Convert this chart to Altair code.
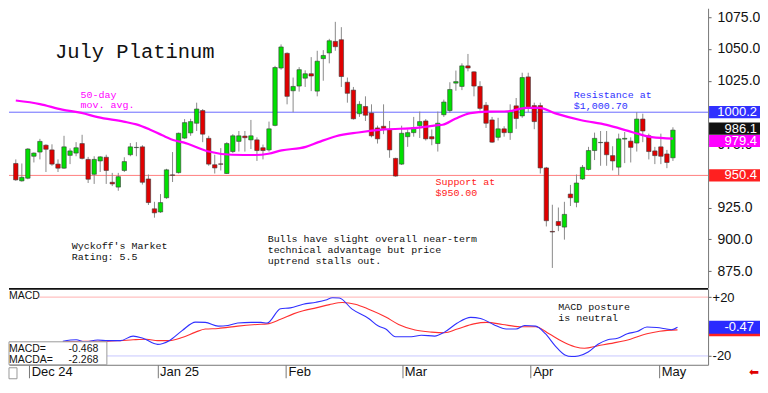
import altair as alt
import pandas as pd

# ---------------- data ----------------
opens = [959.8, 946.1, 948.2, 965.5, 968.8, 974.2, 970.5, 959.3, 956.1, 966.2,
         968.0, 975.5, 963.0, 951.3, 961.8, 964.7, 945.0, 941.2, 954.3, 966.7,
         972.3, 972.9, 947.6, 924.1, 921.6, 932.8, 950.8, 952.6, 979.8, 983.9,
         991.5, 1001.5, 979.6, 958.8, 959.5, 951.9, 969.2, 977.2, 981.4, 978.4,
         978.4, 972.2, 970.5, 989.8, 1035.0, 1046.6, 1017.1, 1020.8, 1027.0, 1030.5,
         1016.8, 1042.4, 1046.9, 1056.0, 1057.3, 1023.8, 1017.6, 999.0, 1004.7, 999.5,
         987.8, 989.1, 986.6, 963.8, 959.3, 980.9, 984.1, 989.6, 993.3, 980.9,
         975.5, 998.2, 1001.5, 1023.1, 1020.5, 1036.7, 1032.0, 1020.5, 1005.7, 994.1,
         980.4, 987.1, 984.1, 1005.2, 997.3, 1028.0, 1005.4, 1005.4, 956.3, 906.3,
         914.1, 909.7, 935.7, 929.2, 947.6, 955.1, 970.0, 976.2, 976.6, 966.0,
         956.9, 979.0, 977.4, 975.9, 994.8, 981.6, 969.7, 972.9, 967.3, 964.3]
highs = [963.0, 959.8, 971.9, 968.5, 979.2, 974.9, 974.9, 963.0, 981.6, 971.7,
         976.6, 982.4, 965.0, 965.5, 965.5, 966.7, 952.4, 952.4, 964.7, 975.9,
         976.6, 974.2, 951.1, 929.6, 935.7, 955.6, 968.8, 984.1, 994.8, 995.0,
         1007.7, 1002.7, 981.6, 966.7, 971.9, 976.6, 982.9, 985.4, 985.4, 994.1,
         980.4, 974.7, 992.8, 1036.7, 1053.6, 1047.3, 1027.5, 1035.7, 1033.2, 1043.6,
         1048.6, 1049.1, 1058.0, 1071.4, 1067.2, 1027.5, 1020.1, 1008.9, 1012.7, 1006.4,
         989.6, 1006.4, 993.3, 964.3, 989.6, 986.6, 996.5, 1000.7, 994.8, 986.6,
         1000.7, 1010.1, 1023.8, 1033.0, 1038.7, 1046.1, 1032.4, 1024.6, 1008.2, 996.5,
         995.8, 989.1, 1006.4, 1011.4, 1031.3, 1031.3, 1007.7, 1007.7, 957.1, 927.3,
         925.1, 929.6, 942.9, 951.1, 958.6, 972.9, 984.1, 985.4, 985.4, 973.4,
         983.3, 984.6, 980.4, 1000.2, 999.0, 983.3, 972.9, 983.3, 970.5, 988.3]
lows = [946.1, 945.5, 947.4, 960.6, 963.0, 953.1, 958.0, 953.1, 955.6, 959.3,
        965.5, 963.0, 944.4, 943.7, 953.1, 943.7, 942.0, 938.3, 953.1, 965.5,
        965.5, 943.2, 927.1, 917.1, 920.9, 932.0, 945.2, 951.9, 979.2, 981.6,
        985.4, 976.6, 958.0, 951.9, 954.3, 951.5, 968.0, 969.2, 969.2, 971.2,
        961.8, 963.0, 969.2, 989.1, 1033.7, 1006.4, 1000.2, 1016.4, 1020.1, 1016.8,
        1012.7, 1025.0, 1038.7, 1048.6, 1020.1, 1007.7, 994.4, 996.5, 993.3, 980.4,
        975.5, 982.9, 964.3, 949.4, 958.6, 972.9, 980.9, 979.9, 977.9, 974.2,
        969.2, 996.5, 999.7, 1017.1, 1017.6, 1032.4, 1012.7, 1001.5, 987.8, 976.0,
        977.9, 980.9, 978.4, 987.1, 995.8, 1000.2, 986.8, 951.9, 910.2, 877.5,
        906.5, 899.8, 926.3, 925.3, 946.9, 954.3, 962.5, 958.0, 958.0, 954.3,
        950.6, 960.1, 960.6, 969.2, 976.6, 963.0, 959.3, 959.3, 956.1, 961.8]
closes = [946.9, 948.9, 971.2, 968.0, 977.2, 971.0, 959.3, 956.1, 972.9, 969.7,
          972.2, 963.8, 947.4, 963.0, 965.0, 954.3, 943.7, 949.4, 961.3, 972.9,
          972.5, 945.0, 929.0, 920.9, 929.0, 954.8, 950.5, 983.6, 992.0, 992.8,
          1002.7, 982.9, 959.3, 956.3, 959.2, 975.5, 981.6, 981.6, 980.1, 981.6,
          970.0, 970.0, 987.1, 1035.4, 1051.6, 1012.7, 1020.5, 1033.7, 1030.5, 1028.7,
          1040.4, 1044.9, 1056.5, 1051.8, 1028.3, 1015.1, 995.0, 1006.4, 997.8, 981.6,
          979.2, 987.4, 970.5, 949.9, 983.6, 984.1, 987.8, 992.8, 979.2, 979.2,
          991.5, 1008.2, 1018.1, 1024.3, 1036.7, 1035.0, 1020.8, 1003.2, 991.5, 976.6,
          987.1, 984.1, 1001.0, 995.2, 1027.5, 1003.9, 992.8, 956.3, 914.7, 905.8,
          910.9, 919.7, 932.8, 944.4, 956.8, 970.0, 979.6, 976.4, 966.7, 961.8,
          979.2, 979.6, 972.5, 994.8, 985.4, 969.2, 966.0, 965.5, 960.6, 986.1]

ma_idx = [0, 4.0, 7.7, 10.9, 13.6, 17.9, 20.0, 22.2, 24.3, 26.4, 27.8, 31.8, 35.8,
          39.8, 41.9, 44.1, 48.1, 50.2, 53.1, 56.8, 61.2, 66.5, 69.7, 70.8, 72.9,
          75.4, 78.3, 81.5, 84.7, 86.8, 89.5, 93.8, 98.0, 102.3, 105.5, 109]
ma_val = [1009.4, 1006.6, 1002.2, 999.7, 996.3, 992.8, 990.6, 986.6, 982.0, 977.9,
          976.4, 969.4, 966.7, 966.5, 967.5, 970.1, 972.9, 976.6, 981.3, 984.2,
          986.6, 987.8, 989.8, 990.3, 995.0, 999.5, 1000.7, 1000.8, 1003.6, 1003.6,
          999.3, 993.9, 990.2, 984.4, 980.5, 979.4]

macd_idx = [8.5, 10.7, 12.0, 14.2, 15.8, 17.9, 20.0, 21.6, 24.0, 25.9,
            28.0, 30.2, 31.8, 33.9, 35.5, 37.1, 39.3, 40.9, 41.9, 44.1,
            45.7, 47.8, 49.9, 51.5, 52.6, 53.7, 55.8, 58.5, 60.1, 61.3,
            62.9, 65.5, 67.1, 69.3, 70.9, 73.0, 75.2, 76.8, 78.9, 81.0,
            82.6, 84.0, 85.8, 87.4, 89.0, 90.6, 91.7, 92.8, 94.4, 96.0,
            97.6, 99.2, 100.8, 102.4, 104.0, 105.6, 107.2, 108.0, 109]
macd_val = [-10.0, -9.0, -10.4, -9.2, -9.6, -9.6, -6.5, -8.0, -12.1, -9.6,
            -2.8, 3.0, 2.8, 0.3, 0.7, 2.4, 2.8, 2.8, 2.4, 12.1,
            12.7, 15.2, 16.5, 18.0, 19.6, 19.4, 11.8, 5.5, 0.3, -1.7,
            -6.9, -6.9, -5.9, -6.5, -3.8, 2.4, 6.2, 5.5, 1.4, -1.7,
            -1.7, 0.7, 0.3, -4.9, -13.1, -19.3, -20.4, -20.0, -17.3, -12.1,
            -9.0, -8.0, -4.9, -3.4, -0.3, -0.7, -1.7, -2.2, -0.468]
sig_idx = [8.5, 12.0, 15.8, 17.9, 20.0, 22.2, 24.0, 25.9, 28.0, 30.2,
           31.8, 33.9, 37.1, 40.3, 41.9, 44.1, 46.2, 47.8, 49.9, 52.1,
           54.2, 56.3, 58.5, 61.3, 63.4, 66.1, 68.8, 70.9, 73.0, 75.7,
           77.8, 80.4, 83.2, 85.8, 88.0, 90.1, 92.2, 93.8, 96.0, 98.6,
           101.3, 104.0, 106.1, 109]
sig_val = [-10.4, -10.0, -10.0, -9.6, -9.0, -8.6, -9.6, -9.6, -7.5, -3.8,
           -1.7, -1.3, 0.3, 1.4, 1.8, 4.9, 8.6, 10.7, 12.7, 14.9,
           16.3, 15.2, 11.8, 6.5, 1.4, -2.4, -3.8, -4.2, -1.7, 1.8,
           2.8, 1.4, -0.1, -0.1, -4.9, -10.0, -13.7, -14.8, -13.1, -11.1,
           -8.6, -4.9, -3.2, -2.268]

month_idx = [3, 24, 45, 64, 85, 106]
month_labels = ["Dec 24", "Jan 25", "Feb", "Mar", "Apr", "May"]
price_ticks = [875, 900, 925, 975, 1025, 1050, 1075]

resistance = 1000.2
support = 950.4
box_vals = [1000.2, 986.1, 979.4, 950.4]
box_text = ["1000.2", "986.1", "979.4", "950.4"]
box_colors = ["#3030ff", "#111111", "#ff00ff", "#ff2020"]

macd_box_vals = [-2.268, -0.468]
macd_box_keys = ["MACDA", "MACD"]
macd_box_text = ["", "-0.47"]
macd_box_colors = ["#ff2020", "#2a2aff"]

# ---------------- layout ----------------
W = 700
H1 = 280
H2 = 76
MONO = "Liberation Mono"
SANS = "Liberation Sans"

xs = alt.Scale(domain=[-0.3, 114], nice=False, zero=False)
ys = alt.Scale(domain=[861.8, 1082.1], nice=False, zero=False)
ms = alt.Scale(domain=[-26, 25.6], nice=False, zero=False)

yax = alt.Axis(orient="right", values=price_ticks, format=".1f", title=None, grid=False,
               tickSize=3, tickColor="#666", domainColor="#777", labelFont=SANS,
               labelFontSize=14, labelColor="#111", labelPadding=6)

label_expr = "''"
for i, lab in zip(month_idx, month_labels):
    label_expr = f"datum.value == {i} ? '{lab}' : ({label_expr})"

xax = alt.Axis(values=month_idx, labelExpr=label_expr, title=None, grid=False,
               labelAlign="left", labelBaseline="top", labelPadding=-12, labelOffset=2,
               tickSize=13, tickColor="#777", domainColor="#777", labelFont=SANS,
               labelFontSize=13, labelColor="#111", labelFlush=False, labelOverlap=False)
max_ = alt.Axis(orient="right", values=[20, -20],
                labelExpr="datum.value > 0 ? '+' + datum.value : '' + datum.value",
                title=None, grid=False, tickSize=3, tickColor="#666", domainColor="#777",
                labelFont=SANS, labelFontSize=13, labelColor="#111", labelPadding=1)

candles = pd.DataFrame({"idx": list(range(len(opens))), "open": opens, "high": highs,
                        "low": lows, "close": closes})
Xt = alt.X("idx:Q", scale=xs, axis=None)

res_rule = alt.Chart(pd.DataFrame({"price": [resistance]})).mark_rule(
    strokeWidth=1, color="#6a6aff").encode(y=alt.Y("price:Q", scale=ys, axis=yax))
sup_rule = alt.Chart(pd.DataFrame({"price": [support]})).mark_rule(
    strokeWidth=1, color="#ff8080").encode(y=alt.Y("price:Q", scale=ys, axis=yax))

wicks = alt.Chart(candles).mark_rule(color="#8a8a8a", strokeWidth=1).encode(
    x=Xt, y=alt.Y("low:Q", scale=ys, axis=yax), y2="high:Q")

bodies = alt.Chart(candles).mark_bar(size=4.4, stroke="#3a3a3a", strokeWidth=0.6).encode(
    x=Xt, y=alt.Y("open:Q", scale=ys, axis=yax), y2="close:Q",
    color=alt.condition("datum.close >= datum.open", alt.value("#00e000"), alt.value("#e00000")),
)

ma_df = pd.DataFrame({"idx": ma_idx, "ma": ma_val})
ma = alt.Chart(ma_df).mark_line(color="#ff00ff", strokeWidth=2.2, interpolate="monotone").encode(
    x=Xt, y=alt.Y("ma:Q", scale=ys, axis=yax))

one = pd.DataFrame({"a": [0]})


def note(text, x, y, color="#111", size=10.3, font=MONO, lh=10, align="left"):
    return alt.Chart(one).mark_text(text=text, align=align, baseline="alphabetic", font=font,
                                    fontSize=size, color=color, lineHeight=lh).encode(
        x=alt.value(x), y=alt.value(y))


title = note("July Platinum", 46, 50, size=20.5)
t_ma = note(["50-day", "mov. avg."], 71.7, 89.5, color="#ff00ff", size=10, lh=10.6)
t_res = note(["Resistance at", "$1,000.70"], 565.6, 90, color="#3030ff", size=10, lh=10.6)
t_sup = note(["Support at", "$950.00"], 427, 177, color="#ff2020", size=10, lh=10.6)
t_wy = note(["Wyckoff's Market", "Rating: 5.5"], 62.8, 241, size=10, lh=10.6)
t_bull = note(["Bulls have slight overall near-term", "technical advantage but price",
               "uptrend stalls out."], 259, 234.5, size=10, lh=10.6)

boxes = pd.DataFrame({"v": box_vals, "t": box_text})
# label tags are nudged apart where they would collide, as on the reference
nudge = "datum.t == '986.1' ? 1.2 : (datum.t == '979.4' ? -1.9 : 0)"
box_rect = alt.Chart(boxes).transform_calculate(
    c=f"datum.v + ({nudge})"
).transform_calculate(
    lo="datum.c - 4.8", hi="datum.c + 4.8"
).mark_rect().encode(
    x=alt.value(W + 1), x2=alt.value(W + 52),
    y=alt.Y("lo:Q", scale=ys, axis=yax), y2="hi:Q",
    color=alt.Color("t:N", scale=alt.Scale(domain=box_text, range=box_colors), legend=None),
)
box_txt = alt.Chart(boxes).transform_calculate(
    c=f"datum.v + ({nudge})"
).mark_text(align="right", baseline="middle", color="white",
            font=SANS, fontSize=13).encode(
    x=alt.value(W + 49), y=alt.Y("c:Q", scale=ys, axis=yax), text="t:N")

top = alt.layer(res_rule, sup_rule, wicks, bodies, ma, title, t_ma, t_res, t_sup, t_wy, t_bull,
                box_rect, box_txt).resolve_scale(color="independent").properties(width=W, height=H1)

# ---------------- MACD panel ----------------
Xb = alt.X("idx:Q", scale=xs, axis=xax)
hi_rule = alt.Chart(pd.DataFrame({"v": [20]})).mark_rule(color="#ffb0b0").encode(
    y=alt.Y("v:Q", scale=ms, axis=max_), x=alt.value(30), x2=alt.value(W))
lo_rule = alt.Chart(pd.DataFrame({"v": [-20]})).mark_rule(color="#c8c8ff").encode(
    y=alt.Y("v:Q", scale=ms, axis=max_), x=alt.value(98), x2=alt.value(W))

macd_df = pd.DataFrame({"idx": macd_idx, "m": macd_val})
sig_df = pd.DataFrame({"idx": sig_idx, "m": sig_val})
sig_line = alt.Chart(sig_df).mark_line(color="#ff3030", strokeWidth=1.1, interpolate="monotone").encode(
    x=Xb, y=alt.Y("m:Q", scale=ms, axis=max_))
macd_line = alt.Chart(macd_df).mark_line(color="#3030ff", strokeWidth=1.1, interpolate="monotone").encode(
    x=Xb, y=alt.Y("m:Q", scale=ms, axis=max_))

sep = alt.Chart(one).mark_rule(color="#111", strokeWidth=2).encode(
    x=alt.value(0), x2=alt.value(W), y=alt.value(0))
info_box = alt.Chart(one).mark_rect(fill="white", stroke="#9a9a9a", strokeWidth=1).encode(
    x=alt.value(0), x2=alt.value(98), y=alt.value(53), y2=alt.value(H2))
t_macd = note("MACD", 0, 9.8, font=SANS, size=10.5)
t_m1 = note("MACD=", 0, 62.8, font=SANS, size=10.5)
t_m2 = note("MACDA=", 0, 74, font=SANS, size=10.5)
t_v1 = note("-0.468", 89.4, 62.8, font=SANS, size=10.5, align="right")
t_v2 = note("-2.268", 89.4, 74, font=SANS, size=10.5, align="right")
t_post = note(["MACD posture", "is neutral"], 550, 21.5, size=10, lh=10.6)

mb = pd.DataFrame({"v": macd_box_vals, "k": macd_box_keys, "t": macd_box_text})
mb_rect = alt.Chart(mb).transform_calculate(
    lo="datum.v - 4.4", hi="datum.v + 4.4"
).mark_rect().encode(
    x=alt.value(W + 1), x2=alt.value(W + 52),
    y=alt.Y("lo:Q", scale=ms, axis=max_), y2="hi:Q",
    color=alt.Color("k:N", scale=alt.Scale(domain=macd_box_keys, range=macd_box_colors), legend=None),
)
mb_txt = alt.Chart(mb).mark_text(align="right", baseline="middle", color="white",
                                 font=SANS, fontSize=13).encode(
    x=alt.value(W + 46), y=alt.Y("v:Q", scale=ms, axis=max_), text="t:N")

arrow = alt.Chart(one).mark_text(text="⬅", font="DejaVu Sans", fontSize=12, color="#e00000",
                                 align="center", baseline="middle").encode(
    x=alt.value(W + 46), y=alt.value(H2 + 7))
corner = alt.Chart(one).mark_rect(fill="white", stroke="#999", strokeWidth=1).encode(
    x=alt.value(0), x2=alt.value(8), y=alt.value(H2 + 3), y2=alt.value(H2 + 14))

bottom = alt.layer(hi_rule, lo_rule, sig_line, macd_line, sep, info_box, t_macd, t_m1, t_m2,
                   t_v1, t_v2, t_post, mb_rect, mb_txt, arrow, corner
                   ).resolve_scale(color="independent").properties(width=W, height=H2)

chart = alt.vconcat(top, bottom, spacing=0).properties(
    padding=0, background="white"
).configure_view(stroke=None)

chart.save("out.html", embed_options={"renderer": "svg", "actions": False})
